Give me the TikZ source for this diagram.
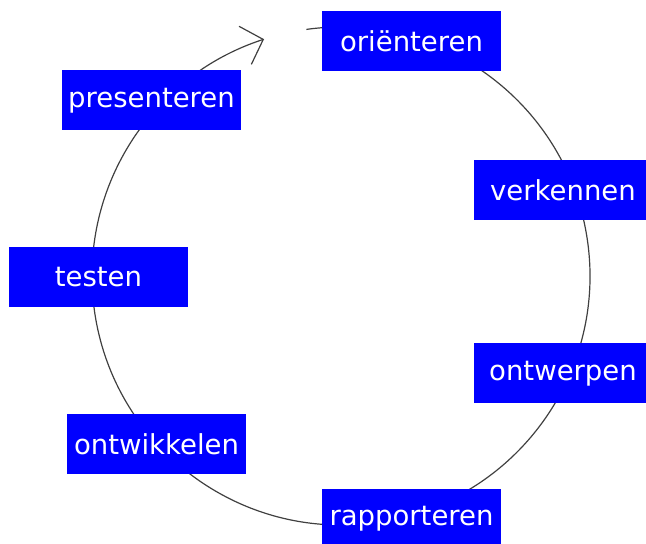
\documentclass[tikz,border=0pt]{standalone}
\usepackage{fontspec}
\newfontfamily\stapfont{DejaVu Sans}
\usetikzlibrary{arrows.meta}
\usetikzlibrary{backgrounds}

\begin{document}
\begin{tikzpicture}[x=1pt, y=1pt,
        stap/.style={fill=blue, text=white, minimum width=179pt, minimum height=60pt, inner sep=0pt, font=\stapfont\fontsize{27.5}{31}\selectfont},
        kring/.style={draw=black!75, line width=1.2pt}]
        \clip (0,0) rectangle (646,544);
        \node[stap] (orienteren) at (411.5,503) {oriënteren};
        \node[stap] (verkennen) at (563,353.5) {verkennen};
        \node[stap] (ontwerpen) at (563,170.5) {ontwerpen};
        \node[stap] (rapporteren) at (411.5,25) {rapporteren};
        \node[stap] (ontwikkelen) at (156.5,100) {ontwikkelen};
        \node[stap] (testen) at (98.5,267) {testen};
        \node[stap] (presenteren) at (151.5,443.5) {presenteren};
        \coordinate (midden) at (341,268);
        \begin{scope}[on background layer]
            \draw[kring, -{Straight Barb[length=19pt, width=40pt]}] (midden) ++(98:249) arc[start angle=98, end angle=-252, radius=249];
        \end{scope}
\end{tikzpicture}
\end{document}
